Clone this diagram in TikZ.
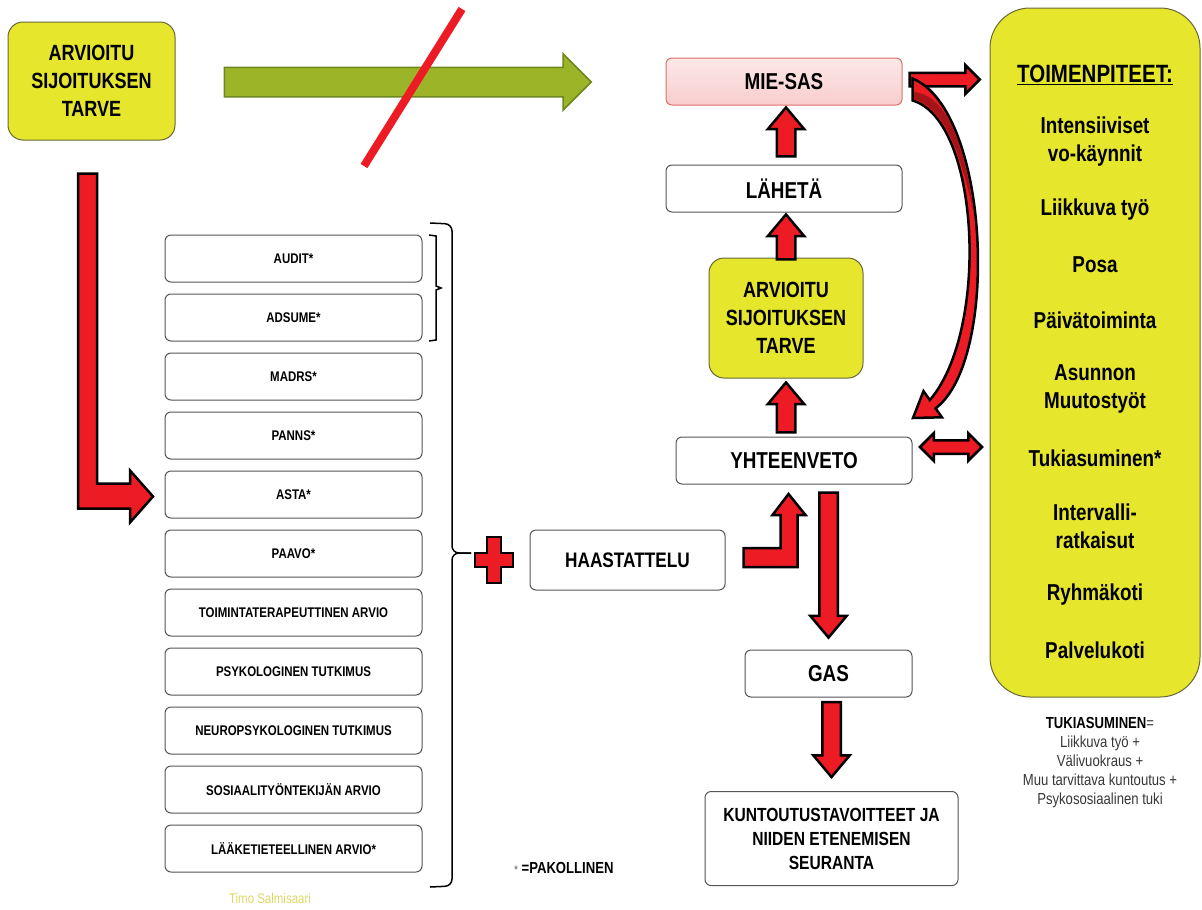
\documentclass[tikz,border=0pt]{standalone}
\usepackage{fontspec}
\setmainfont{Liberation Sans}[FakeStretch=0.82]
\usetikzlibrary{shapes.arrows,calc}

\definecolor{boxyellow}{RGB}{230,230,45}
\definecolor{boxedge}{RGB}{105,105,55}
\definecolor{boxgray}{RGB}{85,85,85}
\definecolor{arrowred}{RGB}{237,28,36}
\definecolor{shadered}{RGB}{165,20,25}
\definecolor{sasfill}{RGB}{248,205,205}
\definecolor{sasedge}{RGB}{222,110,110}
\definecolor{arrowgreen}{RGB}{155,180,40}
\definecolor{greenedge}{RGB}{110,135,30}
\definecolor{notegray}{RGB}{55,55,55}
\definecolor{nameyellow}{RGB}{222,215,100}

\newcommand\fHead{\fontsize{22}{28}\selectfont\bfseries}
\newcommand\fBox{\fontsize{23}{28}\selectfont\bfseries}
\newcommand\fList{\fontsize{14}{16}\selectfont\bfseries}
\newcommand\fItem{\fontsize{23}{28}\selectfont\bfseries}
\newcommand\fNote{\fontsize{16}{19}\selectfont}

\begin{document}
\begin{tikzpicture}[x=1pt,y=-1pt,
  box/.style={draw=boxgray, line width=1pt, rounded corners=6pt, fill=white, align=center, font=\fBox},
  listbox/.style={box, minimum width=257pt, minimum height=47pt, font=\fList},
  yellowbox/.style={draw=boxedge, line width=1pt, fill=boxyellow, rounded corners=15pt, align=center, font=\fHead},
  redblock/.style={fill=arrowred, draw=black, line width=2.5pt},
  uparrow/.style={single arrow, redblock, rotate=90, inner xsep=0pt, inner ysep=8pt,
    minimum width=34pt, single arrow head extend=9pt, single arrow tip angle=80},
  downarrow/.style={uparrow, rotate=180},
  sidearrow/.style={single arrow, redblock, inner xsep=0pt, inner ysep=5.5pt,
    minimum width=26pt, single arrow head extend=7.5pt},
  bothways/.style={double arrow, redblock, inner xsep=0pt, inner ysep=5.5pt,
    minimum width=25pt, double arrow head extend=7pt},
  greenarrow/.style={single arrow, fill=arrowgreen, draw=greenedge, line width=1.5pt,
    inner xsep=0pt, inner ysep=14pt, minimum width=55pt, single arrow head extend=13.5pt},
  bracket/.style={draw=black, line width=1.5pt},
  item/.style={font=\fItem, align=center}]

\useasboundingbox (0,0) rectangle (1202,910);

% left column
\node[yellowbox, minimum width=167pt, minimum height=118pt] (need1) at (91.5,81) {ARVIOITU\\SIJOITUKSEN\\TARVE};
\node[greenarrow, minimum height=367pt, anchor=tail] (skip) at ($(need1.east)+(48,1)$) {};
\draw[line width=8pt, arrowred] (462,9) -- (364,166);

\foreach \t [count=\k from 0] in {AUDIT*, ADSUME*, MADRS*, PANNS*, ASTA*, PAAVO*,
    TOIMINTATERAPEUTTINEN ARVIO, PSYKOLOGINEN TUTKIMUS, NEUROPSYKOLOGINEN TUTKIMUS,
    SOSIAALITYÖNTEKIJÄN ARVIO, LÄÄKETIETEELLINEN ARVIO*}
  \node[listbox] (test\k) at (293.5,258.5+59*\k) {\t};

\draw[redblock] ($(need1.south)+(-13.5,33)$) -- ++(19,0) -- ++(0,310) -- ++(33,0) -- ++(0,-13)
  -- ++(23,26) -- ++(-23,26) -- ++(0,-14) -- ++(-52,0) -- cycle;

% brackets
\draw[bracket] (429,235) -- (436,236) -- (436,286) -- (441,288) -- (436,290) -- (436,340) -- (429,341);
\draw[bracket, rounded corners=7pt] (430,223) -- (452,224) -- (452,553) -- (471,553);
\draw[bracket, rounded corners=7pt] (471,553) -- (452,553) -- (452,886) -- (430,887);

\coordinate (plus) at (494,560);
\draw[redblock] (plus) ++(-7,-23) -- ++(14,0) -- ++(0,16) -- ++(12,0) -- ++(0,14) -- ++(-12,0)
  -- ++(0,16) -- ++(-14,0) -- ++(0,-16) -- ++(-12,0) -- ++(0,-14) -- ++(12,0) -- cycle;

\node[box, minimum width=195pt, minimum height=60pt, font=\fontsize{21}{26}\selectfont\bfseries] (haas) at (627.5,560) {HAASTATTELU};

% right column
\node[box, minimum width=236pt, minimum height=47pt, draw=sasedge, top color=sasfill!45!white, bottom color=sasfill] (miesas) at (784,81.5) {MIE-SAS};
\node[box, minimum width=236pt, minimum height=47pt] (laheta) at (784,188.5) {LÄHETÄ};
\node[yellowbox, minimum width=154pt, minimum height=120pt] (need2) at (786,318) {ARVIOITU\\SIJOITUKSEN\\TARVE};
\node[box, minimum width=236pt, minimum height=47pt] (yht) at (794,460.5) {YHTEENVETO};
\node[box, minimum width=167pt, minimum height=47pt] (gas) at (828.5,673.5) {GAS};
\node[box, minimum width=253pt, minimum height=94pt, font=\fontsize{19}{24}\selectfont\bfseries] (kunt) at (831.5,838.5) {KUNTOUTUSTAVOITTEET JA\\NIIDEN ETENEMISEN\\SEURANTA};

\node[uparrow, minimum height=49pt, anchor=tip] (up1) at (need2.north |- miesas.south) {};
\node[uparrow, minimum height=45pt, anchor=tip] (up2) at (need2.north |- laheta.south) {};
\node[uparrow, minimum height=50pt, anchor=tip] (up3) at ($(need2.south)+(0,2)$) {};
\node[downarrow, minimum height=145pt, anchor=tip] (dn1) at ($(gas.north)+(0,-10)$) {};
\node[downarrow, minimum height=75pt, anchor=tip] (dn2) at ($(kunt.north)+(0,-12)$) {};

\draw[redblock] ($(haas.east)+(18,-12)$) -- ++(37,0) -- ++(0,-33) -- ++(-8,0) -- ++(16,-21)
  -- ++(17,21) -- ++(-8,0) -- ++(0,52) -- ++(-54,0) -- cycle;

% measures
\node[yellowbox, rounded corners=40pt, minimum width=210pt, minimum height=689pt] (toim) at (1095,352.5) {};
\node[item, font=\fontsize{25}{28}\selectfont\bfseries] (head) at (1095,75) {\underline{TOIMENPITEET:}};
\foreach \y/\t [count=\k] in {142/Intensiiviset\\vo-käynnit, 210/Liikkuva työ, 265/Posa,
    320/Päivätoiminta, 389/Asunnon\\Muutostyöt, 458/Tukiasuminen*, 526/Intervalli-\\ratkaisut,
    595/Ryhmäkoti, 650/Palvelukoti}
  \node[item] (opt\k) at (1095,\y) {\t};

\node[sidearrow, minimum height=70pt, anchor=tip] (out1) at ($(toim.west |- miesas.east)+(-8,-2)$) {};
\node[bothways, minimum height=62pt] (both) at ($(yht.east)!0.5!(yht.east -| toim.west)+(0,-13.5)$) {};

\draw[redblock] ($(miesas.east)+(10,-3)$) .. controls (990,110) and (1000,360) .. (935.6,408.3)
  -- (941.9,417.3) -- (913,418) -- (923.5,391.1) -- (929.8,400.1)
  .. controls (990,330) and (980,120) .. ($(miesas.east)+(10,19)$) -- cycle;
\fill[shadered] (914,92) .. controls (948,95) and (966,150) .. (974,215)
  .. controls (960,150) and (944,108) .. (914,99) -- cycle;

% notes
\node[font=\fNote, text=notegray, align=center] (tuki) at (1100,763) {{\bfseries\color{black}TUKIASUMINEN}=\\Liikkuva työ +\\Välivuokraus +\\Muu tarvittava kuntoutus +\\Psykososiaalinen tuki};
\node[font=\fontsize{16}{19}\selectfont\bfseries] (must) at (564,868) {{\color{gray}\fontsize{11}{12}\selectfont *} =PAKOLLINEN};
\node[font=\fontsize{14}{16}\selectfont, text=nameyellow] (author) at (270,898) {Timo Salmisaari};
\end{tikzpicture}
\end{document}
